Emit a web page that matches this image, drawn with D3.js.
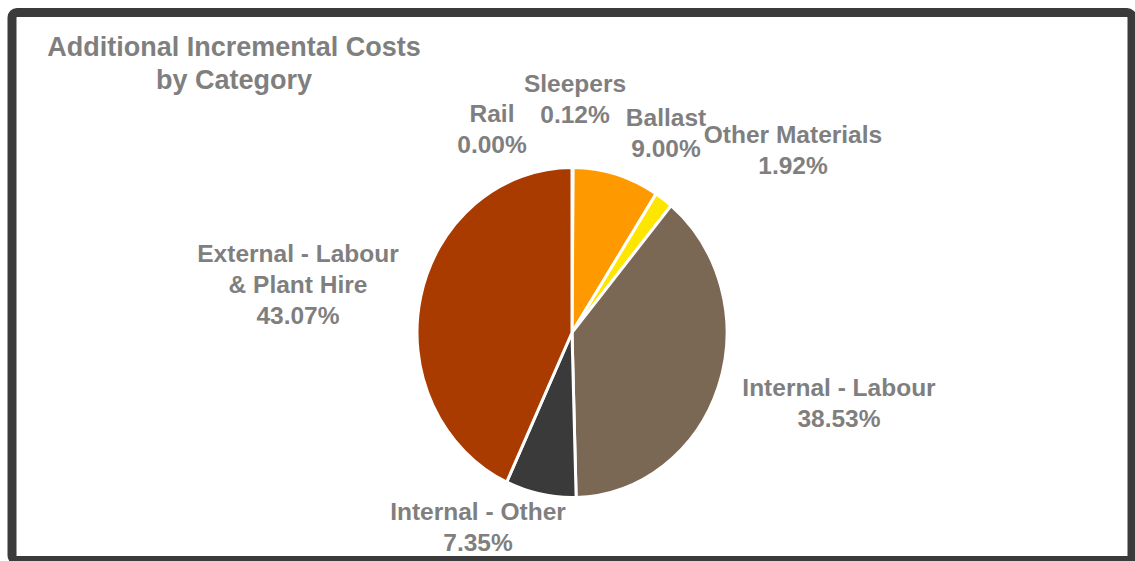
<!DOCTYPE html>
<html>
<head>
<meta charset="utf-8">
<script src="https://cdn.jsdelivr.net/npm/d3@7"></script>
<style>
  body { margin: 0; background: #fff; }
  text { font-family: "Liberation Sans", Arial, sans-serif; font-weight: bold; fill: #7f7f7f; }
</style>
</head>
<body>
<script>
// slice data, clockwise from 12 o'clock
var categories = ["Rail", "Sleepers", "Ballast", "Other Materials", "Internal - Labour", "Internal - Other", "External - Labour & Plant Hire"];
var shares = [0.00, 0.12, 9.00, 1.92, 38.53, 7.35, 43.07];
var colors = ["#c00000", "#ffc000", "#ff9900", "#ffe600", "#7b6854", "#3a3a3a", "#a93a00"];

// label lines for each slice (text only)
var labelLines = [
  ["Rail", "0.00%"],
  ["Sleepers", "0.12%"],
  ["Ballast", "9.00%"],
  ["Other Materials", "1.92%"],
  ["Internal - Labour", "38.53%"],
  ["Internal - Other", "7.35%"],
  ["External - Labour", "& Plant Hire", "43.07%"]
];
// label anchor (centre x, first baseline y)
var labelAt = [[492, 122], [575, 92], [666, 126], [793, 143], [839, 396], [478, 520], [298, 262]];

var W = 1135, H = 561;
var svg = d3.select("body").append("svg")
    .attr("width", W)
    .attr("height", H);

// frame
svg.append("rect")
    .attr("x", 12).attr("y", 12.5)
    .attr("width", 1120).attr("height", 548)
    .attr("rx", 5)
    .attr("fill", "#fff")
    .attr("stroke", "#3b3b3b")
    .attr("stroke-width", 9);

// title
var title = svg.append("text")
    .attr("text-anchor", "middle")
    .style("font-size", "27px");
title.append("tspan").attr("x", 234).attr("y", 56).text("Additional Incremental Costs");
title.append("tspan").attr("x", 234).attr("y", 89).text("by Category");

// pie (slightly taller than wide, as in the picture)
var rx = 155, ry = 165;
var pie = d3.pie().sort(null).value(function(d) { return d; });
var arc = d3.arc().innerRadius(0).outerRadius(rx);

var g = svg.append("g")
    .attr("transform", "translate(572,332.5) scale(1," + (ry / rx) + ")");

g.selectAll("path")
    .data(pie(shares))
  .enter().append("path")
    .attr("d", arc)
    .attr("fill", function(d, i) { return colors[i]; })
    .attr("stroke", "#fff")
    .attr("stroke-width", 3)
    .attr("vector-effect", "non-scaling-stroke");

// data labels
categories.forEach(function(c, i) {
  var t = svg.append("text")
      .attr("text-anchor", "middle")
      .style("font-size", "24.5px");
  labelLines[i].forEach(function(line, j) {
    t.append("tspan")
      .attr("x", labelAt[i][0])
      .attr("y", labelAt[i][1] + j * 31)
      .text(line);
  });
});
</script>
</body>
</html>
